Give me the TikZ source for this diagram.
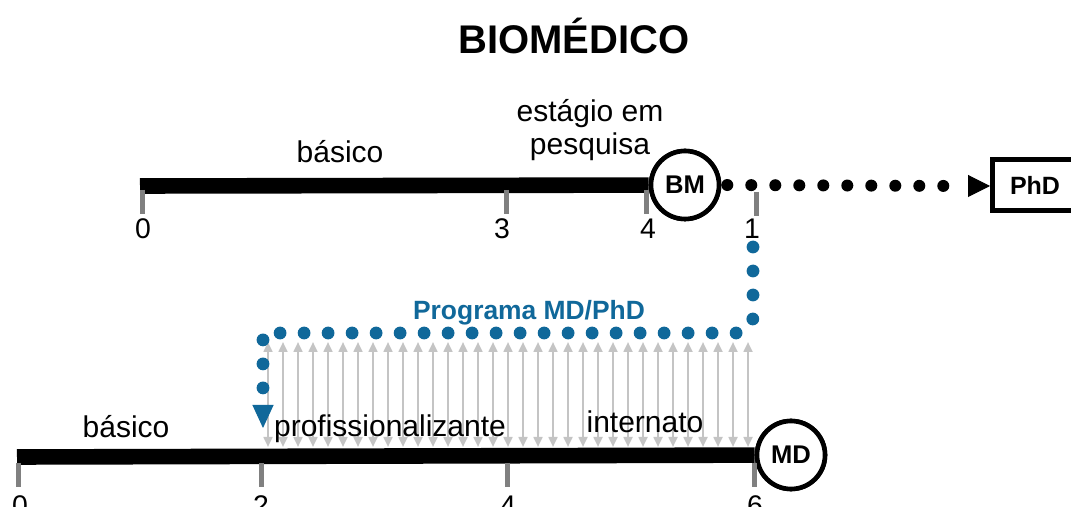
\documentclass[tikz,border=0pt]{standalone}
\usepackage{fontspec}
\setmainfont{Liberation Sans}
\usetikzlibrary{arrows.meta}
\definecolor{mdblue}{RGB}{16,104,154}
\definecolor{tickgray}{RGB}{128,128,128}
\definecolor{arrgray}{RGB}{196,196,196}
\begin{document}
\begin{tikzpicture}[x=0.5pt,y=-0.5pt,
  lbl/.style={font=\fontsize{15}{16.5}\selectfont, anchor=base, inner sep=0pt},
  ticklbl/.style={font=\fontsize{14.2}{16}\selectfont, anchor=base, inner sep=0pt},
  bar/.style={line width=7.8pt},
  tickmark/.style={tickgray, line width=2.5pt},
  degree/.style={circle, draw, fill=white, line width=2.3pt, minimum size=34pt, inner sep=0pt,
    font=\bfseries\fontsize{12.8}{14}\selectfont},
  gradbox/.style={rectangle, draw, fill=white, line width=2.5pt, minimum width=43pt, minimum height=25.5pt,
    inner sep=0pt, font=\bfseries\fontsize{12.5}{14}\selectfont},
  blackdots/.style={line width=6pt, line cap=round, dash pattern=on 0pt off 12pt},
  bluedots/.style={mdblue, line width=6.4pt, line cap=round, dash pattern=on 0pt off 12pt},
  linkarrow/.style={arrgray, line width=1.1pt, {Triangle[length=5pt,width=4.4pt]}-{Triangle[length=5pt,width=4.4pt]}},
]
\clip (0,0) rectangle (1071,507);
\fill[white] (0,0) rectangle (1071,507);

% title
\node[font=\bfseries\fontsize{20}{22}\selectfont, anchor=base, inner sep=0pt] (title) at (574,54) {BIOMÉDICO};

% ---------- upper timeline ----------
\coordinate (ub0) at (140,186);
\node[degree] (bm) at (685,185) {BM};
\node[gradbox] (phd) at (1035,185) {PhD};
\draw[bar] (ub0) -- (bm);
\node[degree] at (bm) {BM};

\draw[tickmark] (142,190) -- (142,214);
\draw[tickmark] (506,190) -- (506,214);
\draw[tickmark] (646,190) -- (646,214);
\draw[tickmark] (756,192) -- (756,216);

\node[ticklbl] (u0) at (143,239) {0};
\node[ticklbl] (u3) at (502,239) {3};
\node[ticklbl] (u4) at (648,239) {4};
\node[ticklbl] (u1) at (752,239) {1};

\node[lbl] (ubas) at (340,163) {básico};
\node[lbl, anchor=center, align=center] (uest) at (590,130) {estágio em\\pesquisa};

\coordinate (phdtip) at (990,186);
\coordinate (phdpre) at (962,186);
\coordinate (phdbase) at (968.5,186);
\draw[blackdots, shorten <=3pt] (bm.east) -- (phdpre);
\draw[line width=0.5pt, -{Triangle[length=11pt,width=11pt]}] (phdbase) -- (phdtip);

% ---------- lower timeline ----------
\coordinate (lb0) at (17,457);
\node[degree] (md) at (791,455) {MD};
\draw[bar] (lb0) -- (md);
\node[degree] at (md) {MD};

\draw[tickmark] (18,463) -- (18,487);
\draw[tickmark] (261,463) -- (261,487);
\draw[tickmark] (507,463) -- (507,487);
\draw[tickmark] (754,463) -- (754,487);

\node[ticklbl] (l0) at (20,516) {0};
\node[ticklbl] (l2) at (261,516) {2};
\node[ticklbl] (l4) at (508,516) {4};
\node[ticklbl] (l6) at (755,516) {6};

% linking arrows
\foreach \i in {0,...,32} {
  \coordinate (at\i) at ({268+15*\i},342);
  \coordinate (ab\i) at ({268+15*\i},447);
  \draw[linkarrow] (at\i) -- (ab\i);
}

\node[lbl] (lbas) at (126,438) {básico};
\node[lbl] (lprof) at (390,437) {profissionalizante};
\node[lbl] (lint) at (645,433) {internato};

% ---------- MD/PhD program path ----------
\coordinate (bstart) at (753,247);
\coordinate (bc1) at (753,333);
\coordinate (bc2) at (263,333);
\coordinate (bpre) at (263,400);
\coordinate (bbase) at (263,405.5);
\coordinate (bend) at (263,428);
\draw[bluedots] (bstart) [rounded corners=8pt] -- (bc1) [sharp corners] -- (bc2) -- (bpre);
\draw[mdblue, line width=0.5pt, -{Triangle[length=11.5pt,width=10.5pt]}] (bbase) -- (bend);

\node[font=\bfseries\fontsize{13.2}{15}\selectfont, text=mdblue, anchor=base, inner sep=0pt] (prog) at (529,320) {Programa MD/PhD};
\end{tikzpicture}
\end{document}
